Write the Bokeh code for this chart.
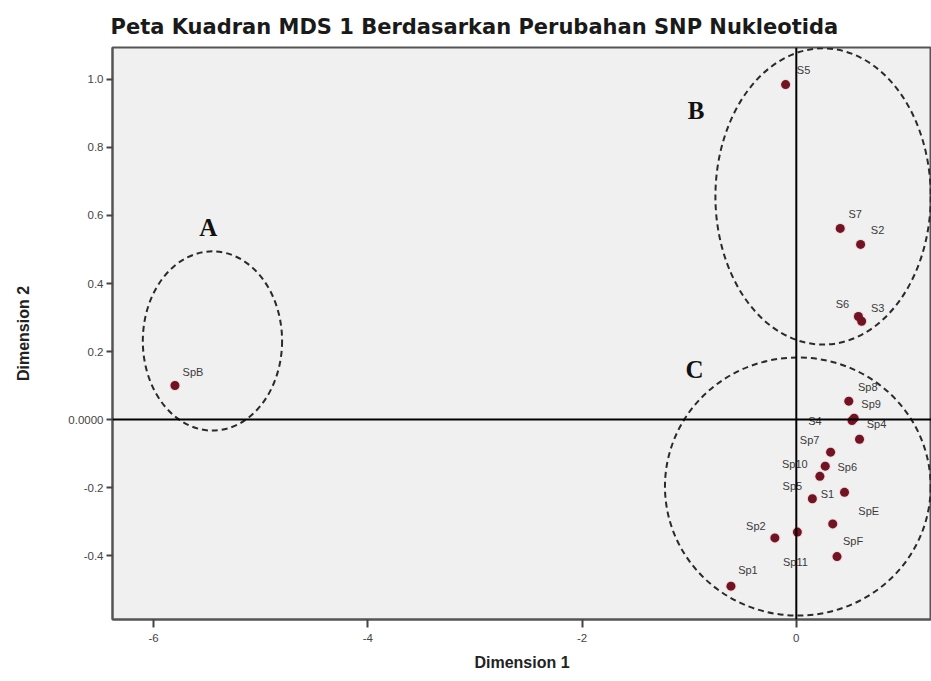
from bokeh.plotting import figure
from bokeh.models import ColumnDataSource, Span, FixedTicker, NumeralTickFormatter, Range1d
from bokeh.core.properties import value
from bokeh.embed import file_html
from bokeh.resources import INLINE

# ---- data ----
names = ["SpB", "S5", "S7", "S2", "S6", "S3", "Sp8", "Sp9", "S4", "Sp4", "Sp7", "Sp6",
         "Sp10", "S1", "Sp5", "SpE", "Sp11", "Sp2", "SpF", "Sp1"]
dim1 = [-5.80, -0.10, 0.41, 0.60, 0.58, 0.61, 0.49, 0.54, 0.52, 0.59, 0.32, 0.27,
        0.22, 0.45, 0.15, 0.34, 0.01, -0.20, 0.38, -0.61]
dim2 = [0.100, 0.985, 0.562, 0.515, 0.303, 0.289, 0.054, 0.004, -0.003, -0.058, -0.096, -0.137,
        -0.167, -0.214, -0.233, -0.307, -0.331, -0.348, -0.403, -0.490]
# label placement (screen px)
lab_dx = [18, 18, 15, 17, -16, 16, 19, 17, -37, 17, -21, 22, -25, -17, -20, 36, -2, -19, 16, 17]
lab_dy = [-14, -15, -14, -14, -12, -13, -14, -14, 0, -15, -12, 1, -12, 2, -13, -13, 30, -12, -16, -16]

# cluster groupings (annotations)
groups = ["A", "B", "C"]
grp_cx = [-5.45, 0.25, 0.014]
grp_cy = [0.231, 0.656, -0.197]
grp_w = [1.30, 2.01, 2.48]
grp_h = [0.527, 0.871, 0.759]
grp_lx = [-5.49, -0.935, -0.95]
grp_ly = [0.566, 0.909, 0.146]

x_ticks = [-6, -4, -2, 0]
y_ticks = [-0.4, -0.2, 0.0, 0.2, 0.4, 0.6, 0.8, 1.0]

p = figure(width=931, height=673, output_backend="svg", toolbar_location=None,
           x_range=Range1d(-6.383, 1.262), y_range=Range1d(-0.588, 1.094),
           min_border_left=112, min_border_right=0, min_border_top=47, min_border_bottom=54,
           title="Peta Kuadran MDS 1 Berdasarkan Perubahan SNP Nukleotida")

p.background_fill_color = "#f0f0f0"
p.border_fill_color = "white"
p.outline_line_color = "#555555"
p.outline_line_width = 2
p.xgrid.visible = False
p.ygrid.visible = False

p.title.text_font = "DejaVu Sans"
p.title.text_font_size = "21px"
p.title.text_font_style = "bold"
p.title.text_color = "#1a1a1a"
p.title.align = "left"
p.title.offset = -2
p.title.standoff = 18

for ax in (p.xaxis[0], p.yaxis[0]):
    ax.axis_line_color = "#555555"
    ax.axis_line_width = 2
    ax.major_tick_line_color = "#444444"
    ax.major_tick_line_width = 2
    ax.minor_tick_line_color = None
    ax.major_tick_in = 0
    ax.major_label_text_font = "Liberation Sans"
    ax.major_label_text_font_size = "11.5px"
    ax.major_label_text_color = "#444444"
    ax.axis_label_text_font = "Liberation Sans"
    ax.axis_label_text_font_size = "16px"
    ax.axis_label_text_font_style = "bold"
    ax.axis_label_text_color = "#222222"

p.xaxis.ticker = FixedTicker(ticks=x_ticks)
p.xaxis.formatter = NumeralTickFormatter(format="0")
p.xaxis.major_tick_out = 8
p.xaxis.major_label_standoff = 6
p.xaxis.axis_label = "Dimension 1"
p.xaxis.axis_label_standoff = 9

p.yaxis.ticker = FixedTicker(ticks=y_ticks)
p.yaxis.formatter = NumeralTickFormatter(format="0.0")
p.yaxis.major_label_overrides = {0: "0.0000"}
p.yaxis.major_tick_out = 6
p.yaxis.major_label_standoff = 3
p.yaxis.axis_label = "Dimension 2"
p.yaxis.axis_label_standoff = 33

# reference lines
p.add_layout(Span(location=0, dimension="height", line_color="black", line_width=2))
p.add_layout(Span(location=0, dimension="width", line_color="black", line_width=2))

# cluster ellipses and letters
gsrc = ColumnDataSource(dict(x=grp_cx, y=grp_cy, w=grp_w, h=grp_h, lx=grp_lx, ly=grp_ly, g=groups))
p.ellipse(x="x", y="y", width="w", height="h", source=gsrc, fill_color=None,
          line_color="#2a2a2a", line_width=2, line_dash="6 4")
p.text(x="lx", y="ly", text="g", source=gsrc, text_font=value("Liberation Serif"),
       text_font_style="bold", text_font_size="25px", text_color="#111111",
       text_align="center", text_baseline="middle")

# points and labels
src = ColumnDataSource(dict(x=dim1, y=dim2, name=names, dx=lab_dx, dy=lab_dy))
p.scatter(x="x", y="y", source=src, size=11, fill_color="#f4c9d0", line_color=None, fill_alpha=0.7)
p.scatter(x="x", y="y", source=src, size=9, fill_color="#6e1422", line_color=None)
p.text(x="x", y="y", text="name", source=src, x_offset="dx", y_offset="dy",
       text_font=value("Liberation Sans"), text_font_size="11px", text_color="#3a3a3a",
       text_align="center", text_baseline="middle")

open("out.html", "w").write(file_html(p, INLINE))
